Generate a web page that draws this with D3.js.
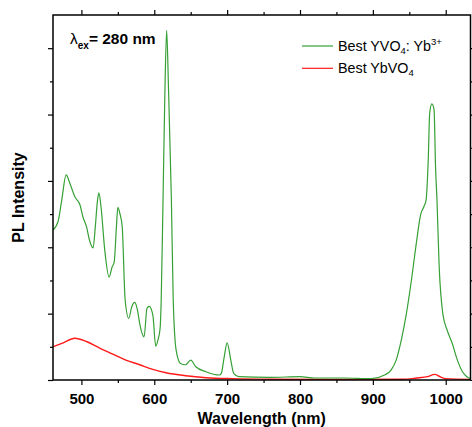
<!DOCTYPE html>
<html>
<head>
<meta charset="utf-8">
<script src="https://cdn.jsdelivr.net/npm/d3@7"></script>
<style>
  body { margin: 0; background: #fff; }
  svg { font-family: "Liberation Sans", Arial, sans-serif; }
</style>
</head>
<body>
<svg id="chart" width="472" height="427"></svg>
<script>
// --- data ---
const greenWavelength = [461, 468, 473, 479, 484, 491, 498, 502, 507, 511, 516, 519, 522, 524, 527, 532, 538, 542, 545, 548, 550, 553, 556, 560, 565, 569, 573, 577, 580, 586, 590, 593, 598, 602, 605, 608, 609.5, 612, 614.5, 617, 619.5, 623.5, 626, 630, 636, 643, 650, 657, 671, 689, 692, 696, 700, 705, 709, 716, 760, 800, 820, 860, 898, 916, 925, 932, 939, 946, 953, 959, 966, 970, 973, 976, 978, 981, 984, 986, 988, 991, 996, 1002, 1009, 1016, 1023, 1029, 1034];
const greenIntensity = [2.26, 2.39, 2.71, 3.09, 2.97, 2.76, 2.64, 2.46, 2.31, 2.11, 1.99, 2.3, 2.7, 2.82, 2.6, 1.96, 1.55, 1.70, 1.78, 2.3, 2.6, 2.5, 2.31, 1.21, 0.93, 1.1, 1.17, 1.05, 0.85, 0.65, 1.08, 1.11, 0.98, 0.51, 0.6, 0.78, 1.2, 2.71, 4.3, 5.27, 4.4, 2.71, 1.21, 0.45, 0.25, 0.23, 0.30, 0.2, 0.125, 0.075, 0.1, 0.35, 0.56, 0.30, 0.1, 0.05, 0.04, 0.05, 0.03, 0.03, 0.02, 0.075, 0.15, 0.3, 0.6, 1.0, 1.51, 2.01, 2.51, 2.61, 2.71, 3.32, 4.02, 4.16, 4.07, 3.22, 2.71, 1.71, 1.0, 0.75, 0.55, 0.30, 0.125, 0.05, 0.02];

const redWavelength = [461, 475, 491, 507, 525, 543, 561, 580, 598, 616, 643, 671, 707, 760, 850, 940, 960, 975, 985, 992, 1000, 1034];
const redIntensity = [0.5, 0.56, 0.63, 0.58, 0.48, 0.39, 0.30, 0.23, 0.16, 0.11, 0.065, 0.035, 0.02, 0.012, 0.01, 0.012, 0.03, 0.05, 0.085, 0.05, 0.02, 0.01];

const xMajorTicks = [500, 600, 700, 800, 900, 1000];
const xMinorTicks = [550, 650, 750, 850, 950];
const yMajorTicks = [0, 1, 2, 3, 4, 5];
const yMinorTicks = [0.5, 1.5, 2.5, 3.5, 4.5];

const seriesNames = ["Best YVO4: Yb3+", "Best YbVO4"];
const seriesColors = ["#35a035", "#ff1a1a"];

// --- layout ---
const svg = d3.select("#chart");
const margin = { top: 15, right: 1.5, bottom: 47, left: 53 };
const W = 472, H = 427;
const iw = W - margin.left - margin.right;
const ih = H - margin.top - margin.bottom;

const x = d3.scaleLinear().domain([461, 1034]).range([0, iw]);
const y = d3.scaleLinear().domain([0, 5.5]).range([ih, 0]);

const g = svg.append("g").attr("transform", `translate(${margin.left},${margin.top})`);

// axes
function styleAxis(sel) {
  sel.select(".domain").remove();
  sel.selectAll("line").attr("stroke", "#000").attr("stroke-width", 1.2);
}
g.append("g").attr("transform", `translate(0,${ih})`)
  .call(d3.axisBottom(x).tickValues(xMajorTicks).tickSize(5).tickPadding(8).tickFormat(d3.format("d")))
  .call(styleAxis)
  .selectAll("text").attr("font-size", 15).attr("font-weight", "bold").attr("fill", "#000")
  .attr("font-family", "Liberation Sans, Arial, sans-serif");
g.append("g").attr("transform", `translate(0,${ih})`)
  .call(d3.axisBottom(x).tickValues(xMinorTicks).tickSize(3).tickFormat(""))
  .call(styleAxis);
g.append("g")
  .call(d3.axisTop(x).tickValues(xMajorTicks).tickSize(5).tickFormat(""))
  .call(styleAxis);
g.append("g")
  .call(d3.axisTop(x).tickValues(xMinorTicks).tickSize(3).tickFormat(""))
  .call(styleAxis);
g.append("g")
  .call(d3.axisLeft(y).tickValues(yMajorTicks).tickSize(5).tickFormat(""))
  .call(styleAxis);
g.append("g")
  .call(d3.axisLeft(y).tickValues(yMinorTicks).tickSize(3).tickFormat(""))
  .call(styleAxis);
g.append("g").attr("transform", `translate(${iw},0)`)
  .call(d3.axisRight(y).tickValues(yMajorTicks).tickSize(5).tickFormat(""))
  .call(styleAxis);
g.append("g").attr("transform", `translate(${iw},0)`)
  .call(d3.axisRight(y).tickValues(yMinorTicks).tickSize(3).tickFormat(""))
  .call(styleAxis);

// spectra
const line = d3.line()
  .x(d => x(d[0]))
  .y(d => y(d[1]))
  .curve(d3.curveMonotoneX);

const green = greenWavelength.map((w, i) => [w, greenIntensity[i]]);
const red = redWavelength.map((w, i) => [w, redIntensity[i]]);

g.append("path").datum(red)
  .attr("fill", "none").attr("stroke", seriesColors[1]).attr("stroke-width", 1.4)
  .attr("d", line);
g.append("path").datum(green)
  .attr("fill", "none").attr("stroke", seriesColors[0]).attr("stroke-width", 1.2)
  .attr("d", line);

// frame
g.append("rect")
  .attr("width", iw).attr("height", ih)
  .attr("fill", "none").attr("stroke", "#000").attr("stroke-width", 1.5);

// excitation label
const ex = g.append("text")
  .attr("x", 17).attr("y", 29)
  .attr("font-size", 15.5).attr("font-weight", "bold").attr("fill", "#000");
ex.append("tspan").text("\u03bb").attr("font-weight", "normal");
ex.append("tspan").text("ex").attr("font-size", 10).attr("dy", 5);
ex.append("tspan").text("= 280 nm").attr("dy", -5);

// legend
const legend = g.append("g").attr("transform", "translate(249,31)");
seriesNames.forEach((name, i) => {
  const row = legend.append("g").attr("transform", `translate(0,${i * 22.3})`);
  row.append("line").attr("x1", 0).attr("x2", 31).attr("y1", 0).attr("y2", 0)
    .attr("stroke", seriesColors[i]).attr("stroke-width", 1.2);
  const t = row.append("text").attr("x", 36).attr("y", 5).attr("font-size", 14.3).attr("fill", "#000");
  if (i === 0) {
    t.append("tspan").text("Best YVO");
    t.append("tspan").text("4").attr("font-size", 9.5).attr("dy", 3);
    t.append("tspan").text(": Yb").attr("dy", -3);
    t.append("tspan").text("3+").attr("font-size", 9.5).attr("dy", -6);
  } else {
    t.append("tspan").text("Best YbVO");
    t.append("tspan").text("4").attr("font-size", 9.5).attr("dy", 3);
  }
});

// axis titles
svg.append("text")
  .attr("x", margin.left + iw / 2).attr("y", 424)
  .attr("text-anchor", "middle")
  .attr("font-size", 16).attr("font-weight", "bold").attr("fill", "#000")
  .text("Wavelength (nm)");
svg.append("text")
  .attr("transform", `translate(24,${margin.top + ih / 2}) rotate(-90)`)
  .attr("text-anchor", "middle")
  .attr("font-size", 16).attr("font-weight", "bold").attr("fill", "#000")
  .text("PL Intensity");
</script>
</body>
</html>
